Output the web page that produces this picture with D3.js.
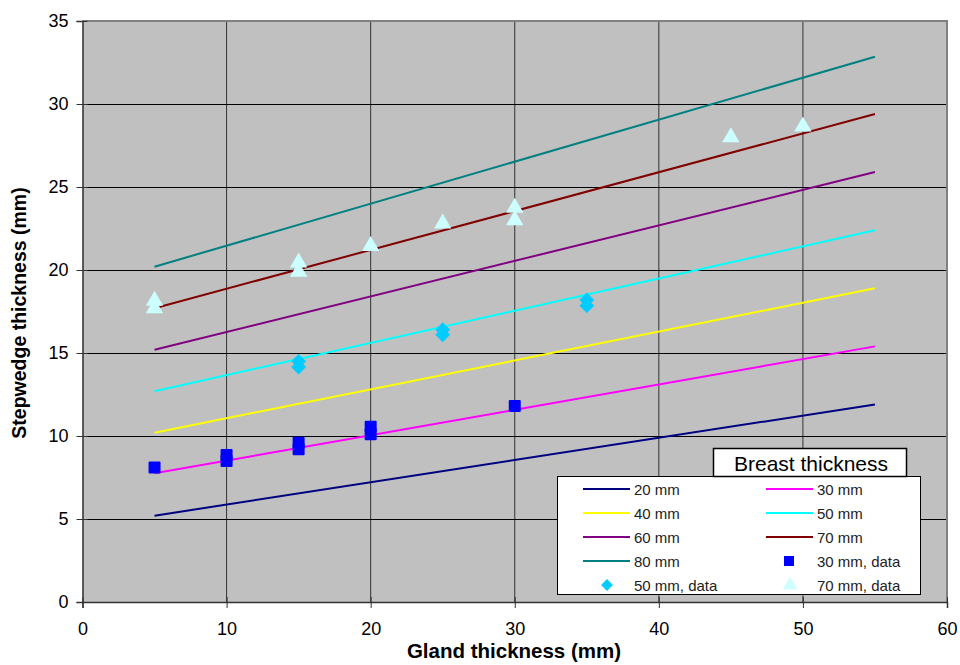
<!DOCTYPE html>
<html>
<head>
<meta charset="utf-8">
<script src="https://cdn.jsdelivr.net/npm/d3@7"></script>
<style>
  body { margin: 0; background: #fff; }
  text { font-family: "Liberation Sans", Arial, sans-serif; }
</style>
</head>
<body>
<div id="chart"></div>
<script>
const width = 960;
const height = 665;

// model lines (breast thickness), straight from x=5 to x=55
const lineX = [5, 55];
const lineNames = ["20 mm", "30 mm", "40 mm", "50 mm", "60 mm", "70 mm", "80 mm"];
const lineColors = ["#000080", "#ff00ff", "#ffff00", "#00ffff", "#800080", "#800000", "#008080"];
const lineY = [
  [5.2, 11.9],
  [7.75, 15.4],
  [10.2, 18.9],
  [12.7, 22.4],
  [15.2, 25.9],
  [17.7, 29.4],
  [20.2, 32.85]
];

// measured data
const sq30x = [5, 10, 10, 15, 15, 20, 20, 30];
const sq30y = [8.1, 8.5, 8.85, 9.2, 9.6, 10.1, 10.55, 11.8];
const dia50x = [15, 15, 25, 25, 35, 35];
const dia50y = [14.15, 14.5, 16.1, 16.4, 17.85, 18.2];
const tri70x = [5, 5, 15, 15, 20, 25, 30, 30, 45, 50];
const tri70y = [17.7, 18.15, 19.9, 20.45, 21.45, 22.8, 23.0, 23.75, 28.0, 28.65];

const xTicks = [0, 10, 20, 30, 40, 50, 60];
const yTicks = [0, 5, 10, 15, 20, 25, 30, 35];

const margin = {left: 82.5, top: 21, right: 13, bottom: 63};

const svg = d3.select("#chart").append("svg")
  .attr("width", width).attr("height", height);

const x = d3.scaleLinear().domain([0, 60]).range([margin.left, width - margin.right]);
const y = d3.scaleLinear().domain([0, 35]).range([height - margin.bottom, margin.top]);

// plot background
svg.append("rect")
  .attr("x", x(0)).attr("y", y(35))
  .attr("width", x(60) - x(0)).attr("height", y(0) - y(35))
  .attr("fill", "#c0c0c0");

// grid
svg.append("g").selectAll("line").data(xTicks.slice(1, -1)).join("line")
  .attr("x1", d => x(d)).attr("x2", d => x(d))
  .attr("y1", y(0)).attr("y2", y(35))
  .attr("stroke", "#333").attr("stroke-width", 1);
svg.append("g").selectAll("line").data(yTicks.slice(1, -1)).join("line")
  .attr("x1", x(0)).attr("x2", x(60))
  .attr("y1", d => Math.round(y(d)) + 0.5).attr("y2", d => Math.round(y(d)) + 0.5)
  .attr("stroke", "#000").attr("stroke-width", 1);

// plot frame top/right
svg.append("path")
  .attr("d", `M${x(0)},${y(35)}H${x(60)}V${y(0)}`)
  .attr("fill", "none").attr("stroke", "#808080").attr("stroke-width", 2);

// axes
const xAxis = d3.axisBottom(x).tickValues(xTicks).tickSize(6).tickPadding(14);
const yAxis = d3.axisLeft(y).tickValues(yTicks).tickSize(6).tickPadding(8);

const gx = svg.append("g").attr("transform", `translate(0,${y(0)})`).call(xAxis);
const gy = svg.append("g").attr("transform", `translate(${x(0)},0)`).call(yAxis);
[gx, gy].forEach(g => {
  g.select(".domain").attr("stroke", "#333").attr("stroke-width", 1.5);
  g.selectAll(".tick line").attr("stroke", "#333");
  g.selectAll("text").attr("font-size", 18).attr("fill", "#000")
    .style("font-family", "'Liberation Sans', Arial, sans-serif");
});
gx.selectAll(".tick line").attr("y1", -5);
gy.selectAll(".tick line").attr("x1", 5);

// lines
const line = d3.line().x(d => x(d[0])).y(d => y(d[1]));
svg.append("g").selectAll("path").data(lineY).join("path")
  .attr("d", d => line(lineX.map((v, i) => [v, d[i]])))
  .attr("fill", "none")
  .attr("stroke", (d, i) => lineColors[i])
  .attr("stroke-width", 2);

// markers
svg.append("g").selectAll("rect").data(sq30x).join("rect")
  .attr("x", (d, i) => x(d) - 6).attr("y", (d, i) => y(sq30y[i]) - 6)
  .attr("width", 12).attr("height", 12).attr("rx", 1)
  .attr("fill", "#0000ff");

const diamond = d3.symbol().type(d3.symbolSquare).size(110);
svg.append("g").selectAll("path").data(dia50x).join("path")
  .attr("d", diamond)
  .attr("transform", (d, i) => `translate(${x(d)},${y(dia50y[i])}) rotate(45)`)
  .attr("fill", "#00ccff");

const tri = d3.symbol().type(d3.symbolTriangle).size(130);
svg.append("g").selectAll("path").data(tri70x).join("path")
  .attr("d", tri)
  .attr("transform", (d, i) => `translate(${x(d)},${y(tri70y[i])})`)
  .attr("fill", "#ccffff");

// axis titles
svg.append("text")
  .attr("x", 514).attr("y", 658)
  .attr("text-anchor", "middle")
  .attr("font-size", 20.5).attr("font-weight", "bold")
  .text("Gland thickness (mm)");
svg.append("text")
  .attr("transform", "translate(26,313) rotate(-90)")
  .attr("text-anchor", "middle")
  .attr("font-size", 19.5).attr("font-weight", "bold")
  .text("Stepwedge thickness (mm)");

// legend
const lg = svg.append("g");
lg.append("rect")
  .attr("x", 557.5).attr("y", 476.5).attr("width", 363).attr("height", 118)
  .attr("fill", "#fff").attr("stroke", "#000");
lg.append("rect")
  .attr("x", 713.5).attr("y", 448.5).attr("width", 193).attr("height", 28)
  .attr("fill", "#fff").attr("stroke", "#000").attr("stroke-width", 1.5);
lg.append("text")
  .attr("x", 811).attr("y", 471)
  .attr("text-anchor", "middle").attr("font-size", 21)
  .text("Breast thickness");

const entries = lineNames.map((n, i) => ({name: n, type: "line", color: lineColors[i]}))
  .concat([
    {name: "30 mm, data", type: "square", color: "#0000ff"},
    {name: "50 mm, data", type: "diamond", color: "#00ccff"},
    {name: "70 mm, data", type: "triangle", color: "#ccffff"}
  ]);
const colX = [583, 766];
const rowY = [489, 513, 537, 561, 585];
const items = lg.selectAll("g.item").data(entries).join("g")
  .attr("class", "item")
  .attr("transform", (d, i) => `translate(${colX[i % 2]},${rowY[Math.floor(i / 2)]})`);
items.filter(d => d.type === "line").append("line")
  .attr("x1", 0).attr("x2", 47).attr("stroke", d => d.color).attr("stroke-width", 2);
items.filter(d => d.type === "square").append("rect")
  .attr("x", 18).attr("y", -5).attr("width", 10).attr("height", 10)
  .attr("fill", d => d.color);
items.filter(d => d.type === "diamond").append("path")
  .attr("d", d3.symbol().type(d3.symbolSquare).size(70))
  .attr("transform", "translate(24,0) rotate(45)")
  .attr("fill", d => d.color);
items.filter(d => d.type === "triangle").append("path")
  .attr("d", d3.symbol().type(d3.symbolTriangle).size(90))
  .attr("transform", "translate(24,0)")
  .attr("fill", d => d.color);
items.append("text")
  .attr("x", 51).attr("y", 5.5)
  .attr("font-size", 15).attr("fill", "#222")
  .text(d => d.name);
</script>
</body>
</html>
